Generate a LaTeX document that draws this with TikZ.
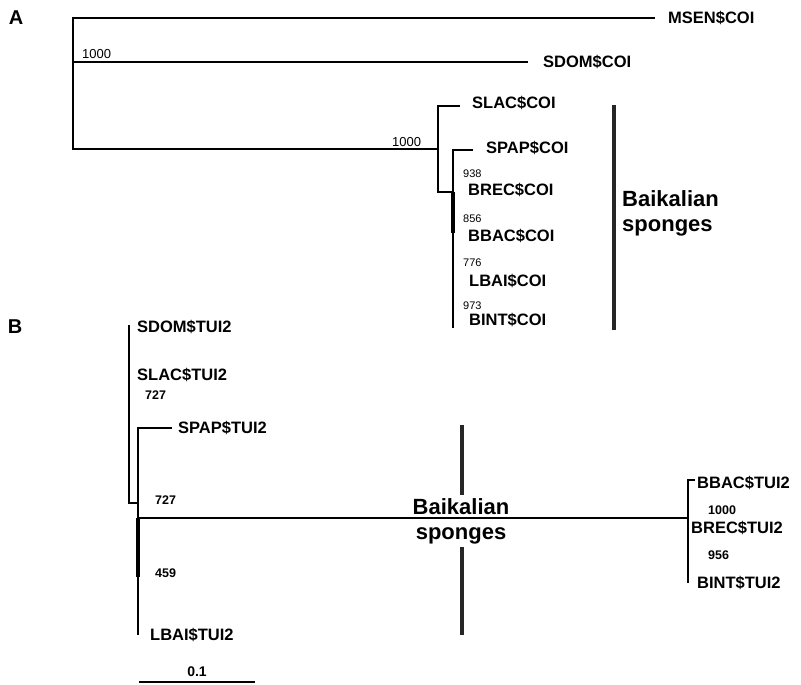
\documentclass[tikz,border=0pt]{standalone}
\usepackage{fontspec}
\setmainfont{Liberation Sans}
\usepackage{tikz}

\begin{document}
\begin{tikzpicture}[x=1pt, y=-1pt,
  br/.style={line width=1.9pt},
  thk/.style={line width=3.4pt},
  bar/.style={line width=4.5pt, draw=black!85},
  leaf/.style={anchor=west, inner sep=0pt, text height=11.8pt, text depth=0pt,
               font=\fontsize{16.5}{18}\selectfont\bfseries},
  bsA/.style={anchor=west, inner sep=0pt, text height=7.9pt, text depth=0pt,
              font=\fontsize{11}{12}\selectfont},
  bsL/.style={anchor=west, inner sep=0pt, text height=9.3pt, text depth=0pt,
              font=\fontsize{13}{14}\selectfont},
  bsB/.style={anchor=west, inner sep=0pt, text height=9pt, text depth=0pt,
              font=\fontsize{12.5}{14}\selectfont\bfseries},
  panel/.style={inner sep=0pt, font=\fontsize{20}{22}\selectfont\bfseries},
  clade/.style={inner sep=0pt, align=left, font=\fontsize{22}{25}\selectfont\bfseries},
]
\useasboundingbox (0,0) rectangle (801,685);

% panel A
\node[panel] (pA) at (16,18) {A};
\coordinate (rA) at (73,149);
\coordinate (nA1) at (438,149);
\coordinate (nA2) at (453,192);
\coordinate (tMSEN) at (655,18);
\coordinate (tSDOM) at (528,62);
\coordinate (tSLAC) at (460,106);
\coordinate (tSPAP) at (473,150);
\coordinate (tBINT) at (453,328);
\draw[br] (tMSEN) -| (rA) -- (nA1);
\draw[br] (rA |- tSDOM) -- (tSDOM);
\draw[br] (tSLAC) -| (nA1) |- (nA2);
\draw[br] (tSPAP) -| (nA2) -- (tBINT);
\draw[thk] (nA2) -- ++(0,41);
\node[leaf] (MSENa) at (668,18) {MSEN\$COI};
\node[leaf] (SDOMa) at (543,62) {SDOM\$COI};
\node[leaf] (SLACa) at (472,103) {SLAC\$COI};
\node[leaf] (SPAPa) at (486,148) {SPAP\$COI};
\node[leaf] (BRECa) at (468,190) {BREC\$COI};
\node[leaf] (BBACa) at (468,236) {BBAC\$COI};
\node[leaf] (LBAIa) at (469,281) {LBAI\$COI};
\node[leaf] (BINTa) at (469,320) {BINT\$COI};
\node[bsL] (bA1) at (82,54) {1000};
\node[bsL] (bA2) at (392,142) {1000};
\node[bsA] (bA3) at (463,174) {938};
\node[bsA] (bA4) at (463,219) {856};
\node[bsA] (bA5) at (463,263) {776};
\node[bsA] (bA6) at (463,306) {973};
\draw[bar] (614,105) coordinate (barA1) -- (614,330) coordinate (barA2);
\node[clade, anchor=north west] (bkA) at (622,190) {Baikalian\\sponges};

% panel B
\node[panel] (pB) at (15,327) {B};
\draw[bar] (462,425) coordinate (barB1) -- (462,635) coordinate (barB2);
\node[clade, align=center, anchor=north, fill=white, inner sep=3pt] (bkB) at (461,495) {Baikalian\\sponges};
\coordinate (rB) at (129,503);
\coordinate (nB1) at (138,518);
\coordinate (nB2) at (688,518);
\coordinate (tSDOMb) at (129,325);
\coordinate (tSPAPb) at (172,428);
\coordinate (tLBAIb) at (138,635);
\coordinate (tBBACb) at (695,480);
\coordinate (tBINTb) at (688,583);
\draw[br] (tSDOMb) -- (rB) -| (nB1);
\draw[br] (tSPAPb) -| (nB1) -- (tLBAIb);
\draw[br] (nB1) -- (nB2);
\draw[br] (tBBACb) -| (nB2) -- (tBINTb);
\draw[thk] (nB1) -- ++(0,59);
\node[leaf] (SDOMb) at (137,327) {SDOM\$TUI2};
\node[leaf] (SLACb) at (137,375) {SLAC\$TUI2};
\node[leaf] (SPAPb) at (178,428) {SPAP\$TUI2};
\node[leaf] (LBAIb) at (150,635) {LBAI\$TUI2};
\node[leaf] (BBACb) at (697,483) {BBAC\$TUI2};
\node[leaf] (BRECb) at (691,528) {BREC\$TUI2};
\node[leaf] (BINTb) at (697,583) {BINT\$TUI2};
\node[bsB] (bB1) at (145,395) {727};
\node[bsB] (bB2) at (155,500) {727};
\node[bsB] (bB3) at (155,573) {459};
\node[bsB] (bB4) at (708,510) {1000};
\node[bsB] (bB5) at (708,555) {956};

% scale bar
\coordinate (s0) at (139,682);
\coordinate (s1) at (255,682);
\draw[br] (s0) -- node[above=4pt, inner sep=0pt, font=\fontsize{14}{16}\selectfont\bfseries] (sc) {0.1} (s1);
\end{tikzpicture}
\end{document}
